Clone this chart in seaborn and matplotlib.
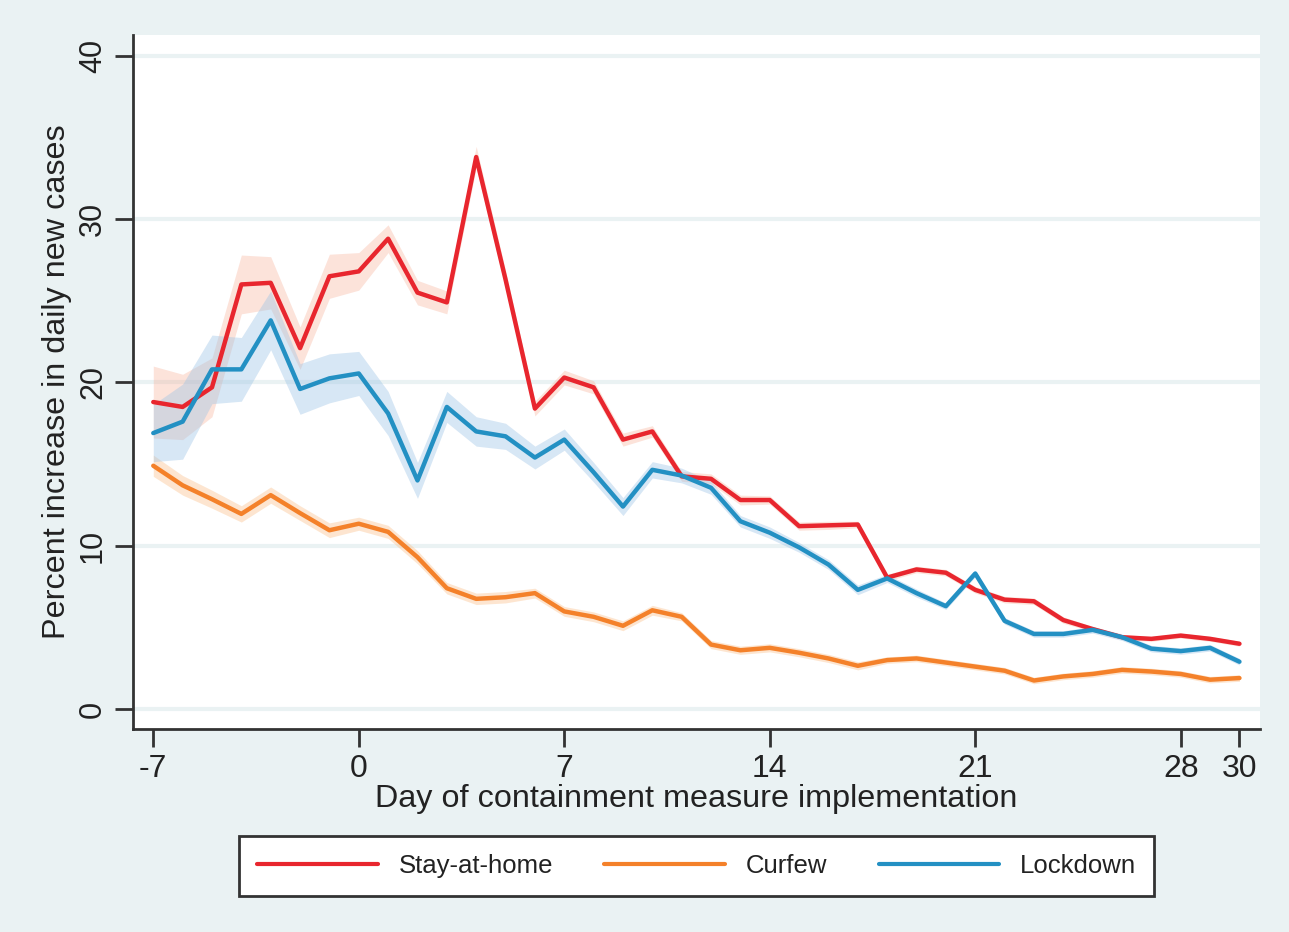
import numpy as np
import pandas as pd
import matplotlib
matplotlib.use("Agg")
import matplotlib.pyplot as plt
import seaborn as sns

# Days relative to implementation of the containment measure
days = list(range(-7, 31))

# Mean percent increase in daily new cases
stay_at_home = [18.8, 18.5, 19.7, 26.0, 26.1, 22.1, 26.5, 26.8, 28.8, 25.5,
                24.9, 33.8, 26.3, 18.4, 20.3, 19.7, 16.5, 17.0, 14.25, 14.1,
                12.8, 12.8, 11.2, 11.25, 11.3, 8.05, 8.55, 8.35, 7.3, 6.7,
                6.6, 5.45, 4.9, 4.4, 4.3, 4.5, 4.3, 4.0]
curfew = [14.9, 13.7, 12.85, 11.95, 13.1, 12.0, 10.95, 11.35, 10.85, 9.3,
          7.4, 6.75, 6.85, 7.1, 5.98, 5.65, 5.1, 6.05, 5.65, 3.95,
          3.6, 3.75, 3.45, 3.1, 2.65, 3.0, 3.1, 2.85, 2.6, 2.35,
          1.75, 2.0, 2.15, 2.4, 2.3, 2.15, 1.8, 1.9]
lockdown = [16.9, 17.6, 20.8, 20.8, 23.8, 19.6, 20.25, 20.55, 18.1, 14.0,
            18.5, 17.0, 16.7, 15.4, 16.5, 14.5, 12.4, 14.65, 14.3, 13.55,
            11.5, 10.8, 9.9, 8.85, 7.3, 8.0, 7.1, 6.3, 8.3, 5.4,
            4.6, 4.6, 4.85, 4.4, 3.7, 3.55, 3.75, 2.9]

# Half widths of the confidence bands
stay_ci = [2.2, 2.0, 1.8, 1.8, 1.6, 1.3, 1.35, 1.15, 0.85, 0.75,
           0.7, 0.65, 0.55, 0.45, 0.45, 0.4, 0.4, 0.35, 0.3, 0.3,
           0.3, 0.25, 0.25, 0.25, 0.2, 0.2, 0.2, 0.2, 0.2, 0.2,
           0.2, 0.2, 0.15, 0.15, 0.15, 0.15, 0.15, 0.15]
curfew_ci = [0.65, 0.6, 0.55, 0.5, 0.5, 0.45, 0.45, 0.4, 0.4, 0.4,
             0.35, 0.35, 0.35, 0.3, 0.3, 0.3, 0.3, 0.3, 0.25, 0.25,
             0.25, 0.25, 0.25, 0.25, 0.25, 0.2, 0.2, 0.2, 0.2, 0.2,
             0.2, 0.2, 0.2, 0.2, 0.2, 0.2, 0.2, 0.2]
lockdown_ci = [1.75, 2.3, 2.1, 1.95, 1.8, 1.55, 1.5, 1.35, 1.35, 1.1,
               0.95, 0.9, 0.8, 0.7, 0.65, 0.6, 0.55, 0.5, 0.45, 0.4,
               0.35, 0.35, 0.3, 0.3, 0.3, 0.25, 0.25, 0.2, 0.2, 0.2,
               0.2, 0.2, 0.2, 0.2, 0.2, 0.2, 0.2, 0.2]

x_ticks = [-7, 0, 7, 14, 21, 28, 30]
y_ticks = [0, 10, 20, 30, 40]

BG = "#EAF2F3"
series = [
    ("Stay-at-home", stay_at_home, stay_ci, "#E8262E", "#F7A88E", 0.32),
    ("Curfew", curfew, curfew_ci, "#F4812A", "#FBC08A", 0.40),
    ("Lockdown", lockdown, lockdown_ci, "#2390C3", "#9CC3E6", 0.40),
]

df = pd.concat([
    pd.DataFrame({"day": days, "pct": vals, "ci": ci, "measure": name})
    for name, vals, ci, _, _, _ in series
])

sns.set_style("white")
plt.rcParams["font.family"] = ["Liberation Sans", "DejaVu Sans"]

fig = plt.figure(figsize=(12.89, 9.32), dpi=100, facecolor=BG)
ax = fig.add_axes([0.1032, 0.2178, 0.8743, 0.7446])
ax.set_facecolor("white")

for y in y_ticks:
    ax.axhline(y, color=BG, lw=3, zorder=0)

# confidence bands first, lines on top
for name, vals, ci, line_c, band_c, alpha in series:
    sub = df[df["measure"] == name]
    ax.fill_between(sub["day"], sub["pct"] - sub["ci"], sub["pct"] + sub["ci"],
                    color=band_c, alpha=alpha, lw=0, zorder=1)

palette = {name: c for name, _, _, c, _, _ in series}
sns.lineplot(data=df, x="day", y="pct", hue="measure", palette=palette,
             lw=3.2, ax=ax, zorder=3, legend=False)

ax.set_xlim(-7.69, 30.7)
ax.set_ylim(-1.22, 41.27)
ax.set_xticks(x_ticks)
ax.set_yticks(y_ticks)
ax.set_xticklabels([str(t) for t in x_ticks], fontsize=23, color="#222222")
ax.set_yticklabels([str(t) for t in y_ticks], fontsize=22, color="#222222",
                   rotation=90, va="center")
ax.tick_params(axis="both", direction="out", length=13, width=2,
               color="#333333", left=True, bottom=True)
ax.tick_params(axis="x", pad=5)
ax.tick_params(axis="y", pad=5)

for side in ["top", "right"]:
    ax.spines[side].set_visible(False)
for side in ["left", "bottom"]:
    ax.spines[side].set_color("#333333")
    ax.spines[side].set_linewidth(2)

ax.set_xlabel("Day of containment measure implementation", fontsize=23.3,
              color="#222222", labelpad=0)
ax.set_ylabel("Percent increase in daily new cases", fontsize=23.3,
              color="#222222", labelpad=4)

handles = [plt.Line2D([], [], color=c, lw=3) for _, _, _, c, _, _ in series]
labels = [name for name, _, _, _, _, _ in series]
leg = fig.legend(handles, labels, loc="center", bbox_to_anchor=(0.5404, 0.0708),
                 ncol=3, fontsize=18.5, frameon=True, fancybox=False,
                 handlelength=4.7, handletextpad=0.8, columnspacing=2.0,
                 borderpad=0.7, labelcolor="#222222", framealpha=1)
leg.get_frame().set_edgecolor("#333333")
leg.get_frame().set_facecolor("white")
leg.get_frame().set_linewidth(2)

fig.savefig("out.png", dpi=100, facecolor=BG)
